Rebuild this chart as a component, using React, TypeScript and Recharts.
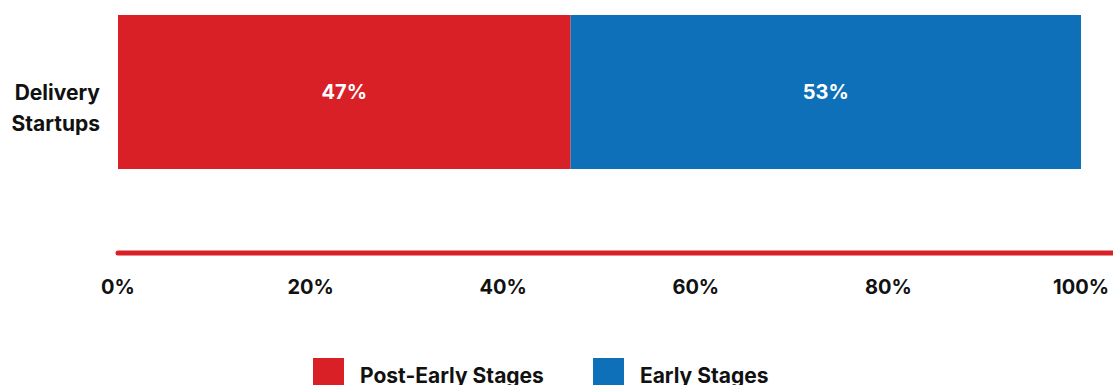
import React from "react";
import { Bar, BarChart, LabelList, XAxis, YAxis } from "recharts";

const categories = ["Delivery Startups"];
const postEarly = [47];
const early = [53];
const xTicks = [0, 20, 40, 60, 80, 100];

const RED = "#d92027";
const BLUE = "#0e70b8";
const FONT = "Inter, 'Noto Sans', sans-serif";

const data = categories.map((name, i) => ({
  name,
  postEarly: postEarly[i],
  early: early[i],
}));

function CategoryTick({ x, y, payload }: any) {
  const words = String(payload.value).split(" ");
  return (
    <text x={x} y={y} textAnchor="end" fill="#111" fontSize={21} fontWeight={700} fontFamily={FONT}>
      {words.map((w, i) => (
        <tspan key={w} x={x} dy={i === 0 ? 8 : 31}>
          {w}
        </tspan>
      ))}
    </text>
  );
}

export default function App() {
  return (
    <div style={{ position: "relative", width: 1113, height: 385, overflow: "hidden", fontFamily: FONT }}>
      <style>{`body{margin:0}`}</style>
      <BarChart
        width={1113}
        height={300}
        data={data}
        layout="vertical"
        margin={{ top: 15, right: 0, bottom: 0, left: 0 }}
        barCategoryGap={0}
      >
        <XAxis
          type="number"
          domain={[0, 100]}
          ticks={xTicks}
          tickFormatter={(v) => `${v}%`}
          height={47}
          padding={{ left: 0, right: 32 }}
          axisLine={{ stroke: RED, strokeWidth: 5, strokeLinecap: "round" }}
          tickLine={false}
          tickSize={6}
          tickMargin={21}
          tick={{ fill: "#111", fontSize: 20, fontWeight: 700, fontFamily: FONT }}
        />
        <YAxis
          type="category"
          dataKey="name"
          width={118}
          axisLine={false}
          tickLine={false}
          tickMargin={12}
          padding={{ top: 0, bottom: 84 }}
          tick={<CategoryTick />}
        />
        <Bar dataKey="postEarly" stackId="a" fill={RED} isAnimationActive={false}>
          <LabelList
            dataKey="postEarly"
            position="center"
            formatter={(v: any) => `${v}%`}
            fill="#fff"
            style={{ fontSize: 20, fontWeight: 700, fontFamily: FONT }}
          />
        </Bar>
        <Bar dataKey="early" stackId="a" fill={BLUE} isAnimationActive={false}>
          <LabelList
            dataKey="early"
            position="center"
            formatter={(v: any) => `${v}%`}
            fill="#fff"
            style={{ fontSize: 20, fontWeight: 700, fontFamily: FONT }}
          />
        </Bar>
      </BarChart>
      <div
        style={{
          position: "absolute",
          top: 358,
          left: 313,
          display: "flex",
          alignItems: "flex-start",
          fontSize: 21,
          fontWeight: 700,
          color: "#111",
        }}
      >
        {[
          { label: "Post-Early Stages", color: RED },
          { label: "Early Stages", color: BLUE },
        ].map((item, i) => (
          <div key={item.label} style={{ display: "flex", alignItems: "flex-start", marginRight: i === 0 ? 49 : 0 }}>
            <div style={{ width: 31, height: 31, background: item.color, marginRight: 16 }} />
            <span style={{ lineHeight: "24px", marginTop: 6 }}>{item.label}</span>
          </div>
        ))}
      </div>
    </div>
  );
}
